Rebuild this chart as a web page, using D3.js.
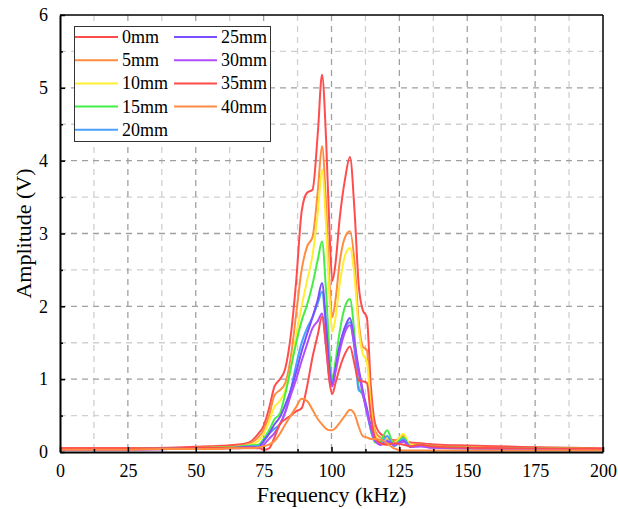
<!DOCTYPE html>
<html><head><meta charset="utf-8">
<script src="https://cdn.jsdelivr.net/npm/d3@7"></script>
<style>body{margin:0;background:#fff;}</style>
</head><body>
<svg id="c" width="618" height="509" font-family="Liberation Serif, Times New Roman, serif"></svg>
<script>
const freqs = [0,20,40,55,65,70,73,75,77,79,81,83,85,87,89,91,93,95,96.5,98,99.3,100.3,101.5,103,105,106.8,108.5,110,111.5,113,114.5,116,118,120.5,123,126.5,129,133,136,140,150,170,200];
const seriesNames = ["0mm","5mm","10mm","15mm","20mm","25mm","30mm","35mm","40mm"];
const seriesColors = ["#ff4d4d","#ff8c40","#ffee33","#44ee44","#4aa0ff","#7a4dff","#b04dff","#ff4d4d","#ff8c40"];
const s0mm  = [0.05,0.05,0.06,0.08,0.10,0.14,0.25,0.36,0.60,0.90,1.00,1.15,1.60,2.35,3.30,3.56,3.60,4.40,5.18,4.30,3.00,2.35,2.60,3.20,3.75,4.05,3.30,2.30,1.95,1.85,0.90,0.40,0.25,0.20,0.16,0.15,0.13,0.12,0.11,0.10,0.09,0.07,0.05];
const s5mm  = [0.04,0.04,0.05,0.06,0.08,0.12,0.20,0.30,0.50,0.78,0.85,0.95,1.30,1.90,2.50,2.82,2.95,3.60,4.20,3.40,2.30,1.85,2.10,2.60,2.95,3.03,2.60,1.80,1.45,1.40,0.70,0.30,0.20,0.18,0.15,0.22,0.10,0.10,0.09,0.08,0.07,0.05,0.04];
const s10mm = [0.04,0.04,0.05,0.06,0.07,0.10,0.15,0.25,0.42,0.62,0.70,0.85,1.15,1.60,2.00,2.35,2.70,3.30,3.88,3.10,2.10,1.65,1.85,2.30,2.70,2.80,2.40,1.70,1.35,1.25,0.60,0.25,0.15,0.20,0.12,0.25,0.10,0.10,0.08,0.07,0.06,0.05,0.04];
const s15mm = [0.04,0.04,0.05,0.06,0.07,0.09,0.10,0.18,0.30,0.45,0.53,0.80,1.15,1.50,1.80,2.02,2.30,2.65,2.89,2.20,1.35,1.00,1.25,1.65,2.00,2.10,1.60,0.90,0.78,0.60,0.30,0.13,0.15,0.30,0.10,0.20,0.08,0.10,0.08,0.07,0.06,0.05,0.04];
const s20mm = [0.04,0.04,0.05,0.05,0.06,0.08,0.08,0.15,0.25,0.32,0.38,0.55,0.85,1.20,1.50,1.70,1.85,2.05,2.20,1.70,1.15,0.96,1.15,1.45,1.70,1.78,1.40,0.85,0.80,0.55,0.30,0.15,0.12,0.22,0.08,0.18,0.08,0.09,0.07,0.06,0.05,0.04,0.03];
const s25mm = [0.03,0.03,0.04,0.05,0.06,0.07,0.06,0.15,0.25,0.38,0.48,0.65,0.85,1.10,1.38,1.62,1.85,2.10,2.32,1.75,1.10,0.92,1.15,1.45,1.72,1.84,1.50,1.15,0.85,0.60,0.35,0.18,0.10,0.15,0.10,0.15,0.07,0.08,0.07,0.06,0.05,0.04,0.03];
const s30mm = [0.03,0.03,0.04,0.05,0.05,0.06,0.05,0.10,0.18,0.26,0.38,0.55,0.78,1.00,1.25,1.48,1.70,1.80,1.90,1.45,1.00,0.90,1.10,1.38,1.65,1.74,1.45,1.10,0.80,0.55,0.33,0.16,0.10,0.13,0.10,0.14,0.07,0.08,0.06,0.06,0.05,0.04,0.03];
const s35mm = [0.05,0.05,0.05,0.06,0.06,0.06,0.06,0.03,0.05,0.20,0.38,0.45,0.50,0.56,0.60,0.90,1.30,1.62,1.86,1.45,0.95,0.80,0.95,1.15,1.35,1.45,1.20,0.98,0.97,0.95,0.50,0.20,0.12,0.10,0.12,0.10,0.08,0.10,0.08,0.07,0.06,0.05,0.04];
const s40mm = [0.03,0.03,0.04,0.04,0.05,0.05,0.06,0.08,0.10,0.15,0.25,0.38,0.50,0.62,0.73,0.70,0.58,0.45,0.38,0.32,0.30,0.30,0.33,0.40,0.50,0.58,0.52,0.35,0.22,0.20,0.18,0.18,0.17,0.12,0.05,0.02,0.02,0.02,0.02,0.02,0.02,0.02,0.02];
const allSeries = [s0mm,s5mm,s10mm,s15mm,s20mm,s25mm,s30mm,s35mm,s40mm];
const xTicks = [0,25,50,75,100,125,150,175,200];
const yTicks = [0,1,2,3,4,5,6];

const FONT = "Liberation Serif, Times New Roman, serif";
const svg = d3.select("#c");
const L=60,R=603,T=15,B=452;
const x = d3.scaleLinear().domain([0,200]).range([L,R]);
const y = d3.scaleLinear().domain([0,6]).range([B,T]);

// grid
const g = svg.append("g");
const xMinor = d3.range(12.5,200,25), yMinor = d3.range(0.5,6,1);
g.selectAll(".vm").data(xMinor).join("line").attr("x1",d=>x(d)).attr("x2",d=>x(d)).attr("y1",T).attr("y2",B)
 .attr("stroke","#d0d0d0").attr("stroke-width",1.3).attr("stroke-dasharray","6,5");
g.selectAll(".hm").data(yMinor).join("line").attr("y1",d=>y(d)).attr("y2",d=>y(d)).attr("x1",L).attr("x2",R)
 .attr("stroke","#d0d0d0").attr("stroke-width",1.3).attr("stroke-dasharray","6,5");
g.selectAll(".vM").data(xTicks.slice(1,-1)).join("line").attr("x1",d=>x(d)).attr("x2",d=>x(d)).attr("y1",T).attr("y2",B)
 .attr("stroke","#a0a0a0").attr("stroke-width",1.3).attr("stroke-dasharray","6,5");
g.selectAll(".hM").data(yTicks.slice(1,-1)).join("line").attr("y1",d=>y(d)).attr("y2",d=>y(d)).attr("x1",L).attr("x2",R)
 .attr("stroke","#a0a0a0").attr("stroke-width",1.3).attr("stroke-dasharray","6,5");

// lines
svg.append("defs").append("clipPath").attr("id","clip").append("rect").attr("x",L).attr("y",T).attr("width",R-L).attr("height",B-T+1);
const line = d3.line().x((d,i)=>x(freqs[i])).y(d=>y(d)).curve(d3.curveMonotoneX);
svg.append("g").attr("clip-path","url(#clip)").selectAll("path").data(allSeries).join("path")
 .attr("d",d=>line(d)).attr("fill","none").attr("stroke",(d,i)=>seriesColors[i]).attr("stroke-width",2).attr("stroke-linejoin","round");

// frame
svg.append("line").attr("x1",L).attr("x2",R).attr("y1",T).attr("y2",T).attr("stroke","#000").attr("stroke-width",1.5);
svg.append("line").attr("x1",R).attr("x2",R).attr("y1",T).attr("y2",B).attr("stroke","#000").attr("stroke-width",1.5);

// axes
const xAxis = svg.append("g").attr("transform",`translate(0,${B})`)
 .call(d3.axisBottom(x).tickValues(xTicks).tickFormat(d3.format("d")).tickSizeInner(-5).tickSizeOuter(0).tickPadding(12));
const yAxis = svg.append("g").attr("transform",`translate(${L},0)`)
 .call(d3.axisLeft(y).tickValues(yTicks).tickFormat(d3.format("d")).tickSizeInner(-5).tickSizeOuter(0).tickPadding(12));
[xAxis,yAxis].forEach(a=>{a.attr("font-family",FONT).attr("font-size",18);
 a.select(".domain").attr("stroke","#000").attr("stroke-width",2);
 a.selectAll(".tick line").attr("stroke","#000").attr("stroke-width",1.5);
 a.selectAll("text").attr("font-size",18).attr("font-family",FONT).attr("fill","#000");});
svg.append("g").attr("transform",`translate(0,${B})`).call(d3.axisBottom(x).tickValues(xMinor).tickSize(-3).tickFormat(""))
 .call(a=>{a.select(".domain").remove();a.selectAll("line").attr("stroke","#000").attr("stroke-width",1.5);});
svg.append("g").attr("transform",`translate(${L},0)`).call(d3.axisLeft(y).tickValues(yMinor).tickSize(-3).tickFormat(""))
 .call(a=>{a.select(".domain").remove();a.selectAll("line").attr("stroke","#000").attr("stroke-width",1.5);});

svg.append("text").attr("x",(L+R)/2).attr("y",502).attr("text-anchor","middle").attr("font-family",FONT).attr("font-size",22).text("Frequency (kHz)");
svg.append("text").attr("transform",`translate(31,${(T+B)/2}) rotate(-90)`).attr("text-anchor","middle").attr("font-family",FONT).attr("font-size",22).text("Amplitude (V)");

// legend
const lg = svg.append("g");
lg.append("rect").attr("x",74.5).attr("y",26.5).attr("width",196).attr("height",115).attr("fill","#fff").attr("stroke","#333").attr("stroke-width",1);
seriesNames.forEach((n,i)=>{
  const col = i<5?0:1, row = i<5?i:i-5;
  const lx = col?174:75, cy = 37+row*23.2;
  lg.append("line").attr("x1",lx).attr("x2",lx+43).attr("y1",cy).attr("y2",cy).attr("stroke",seriesColors[i]).attr("stroke-width",2);
  lg.append("text").attr("x",lx+47).attr("y",cy+6).attr("font-family",FONT).attr("font-size",18).text(n);
});
</script>
</body></html>
